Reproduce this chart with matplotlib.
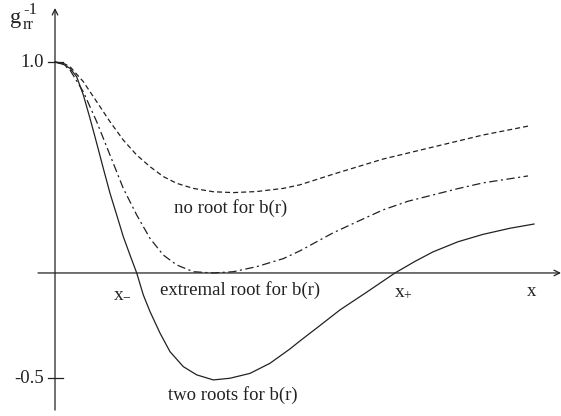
import matplotlib
matplotlib.use("Agg")
import matplotlib.pyplot as plt

plt.rcParams['font.family'] = 'Liberation Serif'
plt.rcParams['mathtext.fontset'] = 'custom'
plt.rcParams['mathtext.rm'] = 'Liberation Serif'
plt.rcParams['mathtext.it'] = 'Liberation Serif'
plt.rcParams['lines.scale_dashes'] = False

# curves (x in arbitrary units, y = g_rr^-1)
x_two = [0.0, 0.08, 0.15, 0.217, 0.283, 0.35, 0.417, 0.483, 0.55, 0.617, 0.683,
         0.75, 0.817, 0.883, 0.95, 1.05, 1.15, 1.283, 1.417, 1.583, 1.75, 1.95,
         2.15, 2.35, 2.45, 2.62, 2.85, 3.12, 3.40, 3.60, 3.78, 4.03, 4.28, 4.55, 4.79]
y_two = [1.0, 0.99, 0.970, 0.930, 0.844, 0.733, 0.615, 0.496, 0.378, 0.275, 0.172,
         0.085, 0.0, -0.104, -0.183, -0.285, -0.373, -0.444, -0.483, -0.507, -0.499,
         -0.476, -0.428, -0.36, -0.322, -0.26, -0.175, -0.09, 0.0, 0.055, 0.10,
         0.148, 0.183, 0.212, 0.232]

x_ext = [0.0, 0.08, 0.15, 0.283, 0.417, 0.55, 0.683, 0.817, 0.95, 1.083, 1.217,
         1.383, 1.583, 1.783, 2.017, 2.283, 2.45, 2.78, 3.03, 3.28, 3.53, 3.78,
         4.03, 4.28, 4.73]
y_ext = [1.0, 0.99, 0.962, 0.859, 0.717, 0.559, 0.401, 0.275, 0.164, 0.085, 0.038,
         0.006, 0.0, 0.006, 0.03, 0.068, 0.105, 0.19, 0.245, 0.299, 0.34, 0.370,
         0.40, 0.427, 0.460]

x_none = [0.0, 0.08, 0.15, 0.283, 0.417, 0.55, 0.683, 0.817, 0.95, 1.083, 1.217,
          1.383, 1.583, 1.783, 2.017, 2.283, 2.45, 2.78, 3.28, 3.78, 4.28, 4.74]
y_none = [1.0, 0.995, 0.978, 0.907, 0.812, 0.717, 0.630, 0.559, 0.504, 0.457,
          0.425, 0.401, 0.385, 0.381, 0.386, 0.401, 0.418, 0.468, 0.54, 0.597,
          0.654, 0.697]

yticks = [1.0, -0.5]
ytick_labels = ["1.0", "-0.5"]

col = "#222222"
fs = 13.5

fig = plt.figure(figsize=(5.61, 4.16), dpi=100)
ax = fig.add_axes([0, 0, 1, 1])
ax.set_xlim(-0.55, 5.06)
ax.set_ylim(-0.678, 1.294)
ax.axis("off")

ax.plot(x_two, y_two, color=col, lw=0.9)
ax.plot(x_ext, y_ext, color=col, lw=0.9, dashes=(6, 2.5, 1.5, 2.5))
ax.plot(x_none, y_none, color=col, lw=0.9, dashes=(3.6, 2.2))

# axes with arrows
ax.annotate("", xy=(5.06, 0), xytext=(-0.17, 0),
            arrowprops=dict(arrowstyle="->", color=col, lw=0.9, shrinkA=0, shrinkB=0))
ax.annotate("", xy=(0, 1.256), xytext=(0, -0.65),
            arrowprops=dict(arrowstyle="->", color=col, lw=0.9, shrinkA=0, shrinkB=0))

for v, lab in zip(yticks, ytick_labels):
    ax.plot([-0.07, 0.08], [v, v], color=col, lw=0.9)
    ax.text(-0.11, v, lab, ha="right", va="center", fontsize=fs, color=col)

# g_rr^-1 label, pieces placed separately like the original
ax.text(-0.45, 1.185, "g", ha="left", va="baseline", fontsize=16, color=col)
ax.text(-0.32, 1.23, "-1", ha="left", va="baseline", fontsize=12, color=col)
ax.text(-0.32, 1.155, "rr", ha="left", va="baseline", fontsize=12, color=col)

ax.text(0.67, -0.095, r"$\mathrm{x}_{-}$", ha="center", va="center", fontsize=14, color=col)
ax.text(3.48, -0.09, r"$\mathrm{x}_{+}$", ha="center", va="center", fontsize=14, color=col)
ax.text(4.77, -0.09, "x", ha="center", va="center", fontsize=fs, color=col)

ax.text(1.85, -0.08, "extremal root for b(r)", ha="center", va="center", fontsize=fs, color=col)
ax.text(1.76, 0.308, "no root for b(r)", ha="center", va="center", fontsize=fs, color=col)
ax.text(1.78, -0.578, "two roots for b(r)", ha="center", va="center", fontsize=fs, color=col)

fig.savefig("out.png", dpi=100)
